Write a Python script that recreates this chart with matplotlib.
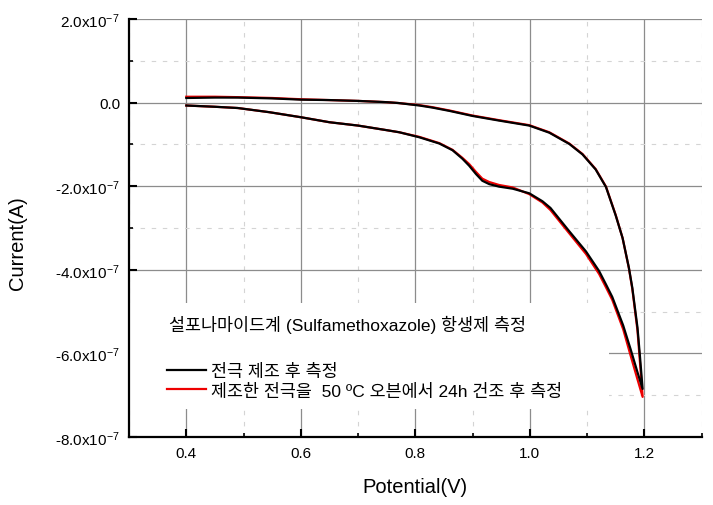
import matplotlib
matplotlib.use("Agg")
import matplotlib.pyplot as plt
from matplotlib.ticker import MultipleLocator, FuncFormatter
from matplotlib.patches import Rectangle

plt.rcParams['font.family'] = ['Liberation Sans', 'Noto Sans CJK KR', 'DejaVu Sans']
plt.rcParams['mathtext.fontset'] = 'custom'
plt.rcParams['mathtext.rm'] = 'Liberation Sans'
plt.rcParams['mathtext.it'] = 'Liberation Sans:italic'
plt.rcParams['axes.unicode_minus'] = False

# forward scan (0.4 -> 1.2 V), current in units of 1e-7 A
fwd_v = [0.40, 0.45, 0.49, 0.55, 0.60, 0.65, 0.70, 0.75, 0.77, 0.807, 0.83, 0.86, 0.90,
         0.946, 0.999, 1.034, 1.069, 1.092, 1.115, 1.133, 1.150, 1.162, 1.173, 1.179,
         1.188, 1.192, 1.197]
fwd_black = [0.11, 0.12, 0.12, 0.10, 0.07, 0.06, 0.04, 0.01, -0.01, -0.07, -0.12, -0.20, -0.32,
             -0.43, -0.55, -0.72, -0.99, -1.24, -1.60, -2.02, -2.70, -3.24, -3.95, -4.43,
             -5.38, -6.01, -6.85]
fwd_red = [0.14, 0.14, 0.13, 0.11, 0.08, 0.06, 0.04, 0.01, -0.01, -0.06, -0.11, -0.19, -0.31,
           -0.42, -0.54, -0.71, -0.98, -1.23, -1.59, -2.01, -2.69, -3.24, -3.96, -4.46,
           -5.45, -6.15, -7.04]

# reverse scan (1.2 -> 0.4 V)
rev_v = [1.197, 1.188, 1.176, 1.163, 1.144, 1.133, 1.121, 1.098, 1.069, 1.036, 1.022, 0.999,
         0.970, 0.946, 0.929, 0.917, 0.906, 0.894, 0.882, 0.865, 0.842, 0.807, 0.772, 0.75,
         0.70, 0.65, 0.60, 0.545, 0.49, 0.45, 0.40]
rev_black = [-6.85, -6.45, -5.90, -5.33, -4.65, -4.35, -4.03, -3.56, -3.08, -2.52, -2.36, -2.17,
             -2.06, -2.01, -1.95, -1.87, -1.71, -1.51, -1.34, -1.14, -0.98, -0.83, -0.71, -0.66,
             -0.55, -0.47, -0.35, -0.23, -0.13, -0.10, -0.07]
rev_red = [-7.04, -6.62, -6.05, -5.42, -4.72, -4.42, -4.10, -3.62, -3.13, -2.57, -2.39, -2.19,
           -2.03, -1.97, -1.90, -1.82, -1.66, -1.47, -1.32, -1.13, -0.97, -0.82, -0.71, -0.66,
           -0.55, -0.47, -0.35, -0.23, -0.13, -0.10, -0.07]

legend_title = '설포나마이드계 (Sulfamethoxazole) 항생제 측정'
labels = ['전극 제조 후 측정', '제조한 전극을  50 ºC 오븐에서 24h 건조 후 측정']

fig = plt.figure(figsize=(7.13, 5.06), dpi=100)
ax = fig.add_axes([0.181, 0.1344, 0.803, 0.8261])

scan_v = fwd_v + rev_v
i_black = [i * 1e-7 for i in fwd_black + rev_black]
i_red = [i * 1e-7 for i in fwd_red + rev_red]

ax.plot(scan_v, i_red, color='#ee0000', lw=1.6, zorder=2, label=labels[1])
ax.plot(scan_v, i_black, color='black', lw=1.6, zorder=3, label=labels[0])

ax.set_xlim(0.3, 1.3)
ax.set_ylim(-8e-7, 2e-7)
ax.xaxis.set_major_locator(MultipleLocator(0.2))
ax.xaxis.set_minor_locator(MultipleLocator(0.1))
ax.yaxis.set_major_locator(MultipleLocator(2e-7))
ax.yaxis.set_minor_locator(MultipleLocator(1e-7))
ax.xaxis.set_major_formatter(FuncFormatter(lambda v, p: f'{v:.1f}'))


def yfmt(v, p):
    if abs(v) < 1e-12:
        return '0.0'
    return f'{v / 1e-7:.1f}x10$^{{-7}}$'


ax.yaxis.set_major_formatter(FuncFormatter(yfmt))

ax.set_axisbelow(True)
ax.grid(which='major', color='#8c8c8c', lw=0.9)
ax.grid(which='minor', color='#d4d4d4', lw=0.8, dashes=(4, 6))

for s in ['top', 'right']:
    ax.spines[s].set_visible(False)
for s in ['left', 'bottom']:
    ax.spines[s].set_linewidth(1.6)
ax.tick_params(which='major', direction='in', length=6, width=1.5, labelsize=11, pad=6.5)
ax.tick_params(which='minor', direction='in', length=3, width=1.2)

fig.text(415 / 713, 1 - 488 / 506, 'Potential(V)', fontsize=14.5, ha='center', va='center')
fig.text(18 / 713, 1 - 243 / 506, 'Current(A)', fontsize=14.5, ha='center', va='center',
         rotation=90)

# white area behind the legend text
ax.add_patch(Rectangle((0.3, -7.33e-7), 0.838, 2.53e-7, facecolor='white',
                       edgecolor='none', zorder=1))
ax.text(0.37, -5.29e-7, legend_title, fontsize=12.5, va='center', ha='left', zorder=4)

handles, labs = ax.get_legend_handles_labels()
leg = ax.legend(handles[::-1], labs[::-1], loc='center left', bbox_to_anchor=(0.0665, 0.1345),
                frameon=False, fontsize=12.5, handlelength=2.25, handletextpad=0.3,
                labelspacing=0.2, borderaxespad=0, borderpad=0)

fig.savefig('out.png', dpi=100)
